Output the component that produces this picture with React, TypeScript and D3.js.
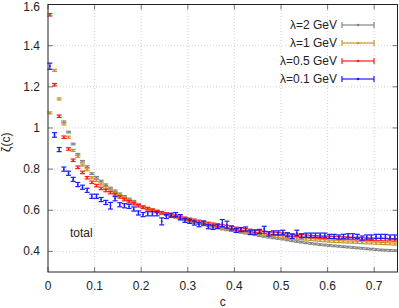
import React from 'react';
import * as d3 from 'd3';

// bin centres of c
const cBins = [
  0.004, 0.014, 0.024, 0.034, 0.044, 0.054, 0.064, 0.074, 0.084, 0.094,
  0.104, 0.114, 0.124, 0.134, 0.144, 0.154, 0.164, 0.174, 0.184, 0.194,
  0.204, 0.214, 0.224, 0.234, 0.244, 0.254, 0.264, 0.274, 0.284, 0.294,
  0.304, 0.314, 0.324, 0.334, 0.344, 0.354, 0.364, 0.374, 0.384, 0.394,
  0.404, 0.414, 0.424, 0.434, 0.444, 0.454, 0.464, 0.474, 0.484, 0.494,
  0.504, 0.514, 0.524, 0.534, 0.544, 0.554, 0.564, 0.574, 0.584, 0.594,
  0.604, 0.614, 0.624, 0.634, 0.644, 0.654, 0.664, 0.674, 0.684, 0.694,
  0.704, 0.714, 0.724, 0.734, 0.744,
];

const zetaL2: (number | null)[] = [
  null, null, null, 1.03, 0.98, 0.922, 0.872, 0.838, 0.812, 0.778,
  0.76, 0.742, 0.724, 0.708, 0.694, 0.68, 0.667, 0.655, 0.644, 0.627,
  0.617, 0.609, 0.601, 0.593, 0.586, 0.579, 0.572, 0.566, 0.559, 0.553,
  0.547, 0.541, 0.535, 0.529, 0.524, 0.519, 0.514, 0.509, 0.505, 0.501,
  0.497, 0.493, 0.489, 0.485, 0.481, 0.477, 0.473, 0.469, 0.466, 0.463,
  0.46, 0.456, 0.452, 0.448, 0.445, 0.442, 0.439, 0.436, 0.433, 0.431,
  0.429, 0.427, 0.425, 0.423, 0.421, 0.419, 0.417, 0.415, 0.413, 0.411,
  0.409, 0.407, 0.406, 0.405, 0.404,
];

const zetaL1: number[] = [
  1.073, 1.28, 1.141, 1.02, 0.955, 0.891, 0.862, 0.82, 0.797, 0.758,
  0.745, 0.728, 0.71, 0.695, 0.682, 0.672, 0.66, 0.649, 0.638, 0.628,
  0.618, 0.61, 0.602, 0.595, 0.588, 0.581, 0.575, 0.569, 0.563, 0.557,
  0.551, 0.545, 0.54, 0.535, 0.53, 0.525, 0.52, 0.515, 0.51, 0.506,
  0.502, 0.498, 0.494, 0.49, 0.487, 0.484, 0.481, 0.478, 0.475, 0.472,
  0.47, 0.468, 0.466, 0.464, 0.462, 0.46, 0.458, 0.456, 0.454, 0.452,
  0.45, 0.449, 0.448, 0.447, 0.446, 0.445, 0.444, 0.443, 0.442, 0.441,
  0.44, 0.439, 0.438, 0.437, 0.436,
];

const zetaL05: number[] = [
  1.55, 1.21, 1.057, 0.955, 0.898, 0.843, 0.809, 0.784, 0.758, 0.736,
  0.72, 0.706, 0.696, 0.686, 0.676, 0.665, 0.652, 0.642, 0.632, 0.622,
  0.614, 0.607, 0.6, 0.594, 0.588, 0.582, 0.576, 0.571, 0.566, 0.561,
  0.556, 0.551, 0.546, 0.541, 0.536, 0.532, 0.528, 0.524, 0.52, 0.516,
  0.512, 0.508, 0.505, 0.502, 0.499, 0.496, 0.493, 0.49, 0.488, 0.486,
  0.484, 0.482, 0.48, 0.478, 0.476, 0.474, 0.472, 0.471, 0.47, 0.469,
  0.468, 0.467, 0.466, 0.465, 0.464, 0.463, 0.462, 0.461, 0.46, 0.459,
  0.458, 0.458, 0.457, 0.457, 0.456,
];

const zetaL01: number[] = [
  1.3, 0.966, 0.895, 0.8, 0.78, 0.75, 0.725, 0.712, 0.697, 0.668,
  0.668, 0.652, 0.638, 0.622, 0.656, 0.627, 0.622, 0.619, 0.606, 0.587,
  0.579, 0.583, 0.583, 0.583, 0.546, 0.57, 0.576, 0.579, 0.566, 0.551,
  0.546, 0.538, 0.53, 0.538, 0.52, 0.517, 0.522, 0.538, 0.53, 0.514,
  0.502, 0.506, 0.509, 0.493, 0.493, 0.497, 0.509, 0.485, 0.49, 0.49,
  0.493, 0.481, 0.473, 0.49, 0.476, 0.479, 0.479, 0.479, 0.479, 0.479,
  0.473, 0.473, 0.47, 0.473, 0.476, 0.476, 0.473, 0.465, 0.47, 0.47,
  0.473, 0.473, 0.473, 0.47, 0.47,
];

const errL01: number[] = [
  0.015, 0.011, 0.01, 0.01, 0.01, 0.01, 0.01, 0.01, 0.01, 0.01,
  0.01, 0.01, 0.01, 0.016, 0.01, 0.01, 0.01, 0.01, 0.01, 0.01,
  0.01, 0.01, 0.01, 0.01, 0.017, 0.01, 0.01, 0.01, 0.013, 0.01,
  0.01, 0.01, 0.01, 0.01, 0.01, 0.01, 0.01, 0.017, 0.017, 0.01,
  0.01, 0.01, 0.01, 0.01, 0.01, 0.01, 0.013, 0.01, 0.01, 0.01,
  0.01, 0.01, 0.01, 0.013, 0.01, 0.01, 0.01, 0.01, 0.01, 0.01,
  0.01, 0.01, 0.01, 0.01, 0.01, 0.01, 0.01, 0.01, 0.01, 0.01,
  0.01, 0.01, 0.01, 0.01, 0.01,
];
const errL2 = 0.004;
const errL1 = 0.005;
const errL05 = 0.006;

const xTicks = [0, 0.1, 0.2, 0.3, 0.4, 0.5, 0.6, 0.7];
const yTicks = [0.4, 0.6, 0.8, 1, 1.2, 1.4, 1.6];

const series = [
  { label: 'λ=2 GeV', color: '#858585', values: zetaL2, err: cBins.map(() => errL2) },
  { label: 'λ=1 GeV', color: '#c9952a', values: zetaL1, err: cBins.map(() => errL1) },
  { label: 'λ=0.5 GeV', color: '#ff1a1a', values: zetaL05, err: cBins.map(() => errL05) },
  { label: 'λ=0.1 GeV', color: '#1a1aff', values: zetaL01, err: errL01 },
];

const W = 399;
const H = 308;
const FONT = '"Liberation Sans", Arial, Helvetica, sans-serif';
const FS = 12;

export default function App() {
  const x = d3.scaleLinear().domain([0, 0.75]).range([48, 397.5]);
  const y = d3.scaleLinear().domain([0.3, 1.6]).range([272, 4.5]);
  const [x0, x1] = x.range();
  const [yb, yt] = y.range();
  const cap = 2.5;

  return (
    <svg width={W} height={H} style={{ position: 'absolute', left: 0, top: 0, background: '#fff' }}
      fontFamily={FONT}>
      {/* grid */}
      <g stroke="#c8c8c8" strokeWidth={0.8} strokeDasharray="1,2">
        {xTicks.slice(1).map(t => (
          <line key={'gx' + t} x1={x(t)} x2={x(t)} y1={yb} y2={yt} />
        ))}
        {yTicks.map(t => (
          <line key={'gy' + t} x1={x0} x2={x1} y1={y(t)} y2={y(t)} />
        ))}
      </g>

      {/* ticks on all sides, inward */}
      <g stroke="#777" strokeWidth={1}>
        {xTicks.map(t => (
          <g key={'tx' + t}>
            <line x1={x(t)} x2={x(t)} y1={yb} y2={yb - 5} />
            <line x1={x(t)} x2={x(t)} y1={yt} y2={yt + 5} />
          </g>
        ))}
        {yTicks.map(t => (
          <g key={'ty' + t}>
            <line x1={x0} x2={x0 + 5} y1={y(t)} y2={y(t)} />
            <line x1={x1} x2={x1 - 5} y1={y(t)} y2={y(t)} />
          </g>
        ))}
      </g>

      {/* data with error bars */}
      {series.map(s => (
        <g key={s.label} stroke={s.color} fill={s.color} strokeWidth={1.2}>
          {cBins.map((c, i) => {
            const v = s.values[i];
            if (v == null) return null;
            const e = s.err[i];
            const px = x(c);
            const ylo = y(v - e);
            const yhi = y(v + e);
            return (
              <g key={i}>
                <line x1={px} x2={px} y1={ylo} y2={yhi} />
                <line x1={px - cap} x2={px + cap} y1={ylo} y2={ylo} />
                <line x1={px - cap} x2={px + cap} y1={yhi} y2={yhi} />
                <circle cx={px} cy={y(v)} r={0.9} stroke="none" />
              </g>
            );
          })}
        </g>
      ))}

      {/* frame */}
      <rect x={x0} y={yt} width={x1 - x0} height={yb - yt} fill="none" stroke="#222" strokeWidth={1} />

      {/* tick labels */}
      <g fontSize={FS} fill="#222">
        {xTicks.map(t => (
          <text key={'lx' + t} x={x(t)} y={290} textAnchor="middle">{t}</text>
        ))}
        {yTicks.map(t => (
          <text key={'ly' + t} x={40} y={Math.max(y(t) + 4, 10.5)} textAnchor="end">{t}</text>
        ))}
      </g>

      {/* axis titles */}
      <text x={(x0 + x1) / 2} y={306} fontSize={FS} textAnchor="middle" fill="#222">c</text>
      <text transform={`translate(10,${(yb + yt) / 2 + 4}) rotate(-90)`} fontSize={FS} textAnchor="middle" fill="#222">ζ(c)</text>

      <text x={70} y={237} fontSize={FS} fill="#222">total</text>

      {/* legend */}
      {series.map((s, i) => {
        const ly = 25 + i * 18;
        return (
          <g key={'lg' + s.label}>
            <text x={337} y={ly + 4} fontSize={FS} textAnchor="end" fill="#222">{s.label}</text>
            <g stroke={s.color} strokeWidth={1.2}>
              <line x1={342} x2={374} y1={ly} y2={ly} />
              <line x1={342} x2={342} y1={ly - 3} y2={ly + 3} />
              <line x1={374} x2={374} y1={ly - 3} y2={ly + 3} />
            </g>
            <circle cx={358} cy={ly} r={1.3} fill={s.color} />
          </g>
        );
      })}
    </svg>
  );
}
